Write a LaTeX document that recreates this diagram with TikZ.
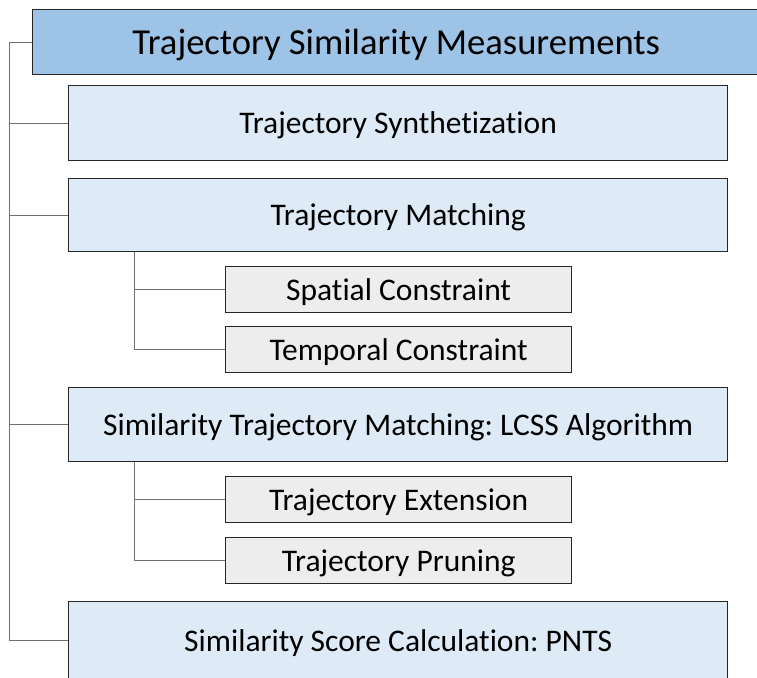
\documentclass[tikz,border=0pt]{standalone}
\usepackage{fontspec}
\setmainfont{Carlito}[Ligatures=NoCommon]
\frenchspacing
\definecolor{topfill}{HTML}{9DC3E6}
\definecolor{midfill}{HTML}{DEEBF7}
\definecolor{subfill}{HTML}{EDEDED}
\definecolor{edgecol}{HTML}{262626}
\definecolor{linkcol}{HTML}{707070}
\begin{document}
\begin{tikzpicture}[x=1pt,y=-1pt,
  box/.style={draw=edgecol,line width=1.3pt,inner sep=0pt,anchor=north west,
    text height=28pt,text depth=7pt},
  topbox/.style={box,fill=topfill,font=\fontsize{36.6}{40}\selectfont,
    text height=32pt,text depth=8pt},
  midbox/.style={box,fill=midfill,minimum width=659pt,font=\fontsize{31.5}{36}\selectfont},
  subbox/.style={box,fill=subfill,minimum width=346pt,minimum height=46pt,font=\fontsize{31.5}{36}\selectfont},
  link/.style={draw=linkcol,line width=1pt}]
\useasboundingbox (0,0) rectangle (757,677);
% boxes
\node[topbox,minimum width=727pt,minimum height=65pt] (top) at (32,9) {Trajectory Similarity Measurements};
\node[midbox,minimum height=75pt] (synth) at (68,85) {Trajectory Synthetization};
\node[midbox,minimum height=73pt] (match) at (68,178) {Trajectory Matching};
\node[subbox] (spat) at (225,266) {Spatial Constraint};
\node[subbox] (temp) at (225,326) {Temporal Constraint};
\node[midbox,minimum height=74pt] (lcss) at (68,387) {Similarity Trajectory Matching: LCSS Algorithm};
\node[subbox] (ext) at (225,476) {Trajectory Extension};
\node[subbox] (prun) at (225,537) {Trajectory Pruning};
\node[midbox,minimum height=78pt] (score) at (68,601) {Similarity Score Calculation: PNTS};
% main trunk
\coordinate (trunk) at (9,0);
\draw[link] (top.west) -- (top.west -| trunk) -- (score.west -| trunk) -- (score.west);
\draw[link] (synth.west -| trunk) -- (synth.west);
\draw[link] (match.west -| trunk) -- (match.west);
\draw[link] (lcss.west -| trunk) -- (lcss.west);
% sub trunks
\coordinate (sub) at (134,0);
\draw[link] (match.south -| sub) -- (temp.west -| sub) -- (temp.west);
\draw[link] (spat.west -| sub) -- (spat.west);
\draw[link] (lcss.south -| sub) -- (prun.west -| sub) -- (prun.west);
\draw[link] (ext.west -| sub) -- (ext.west);
\end{tikzpicture}
\end{document}
